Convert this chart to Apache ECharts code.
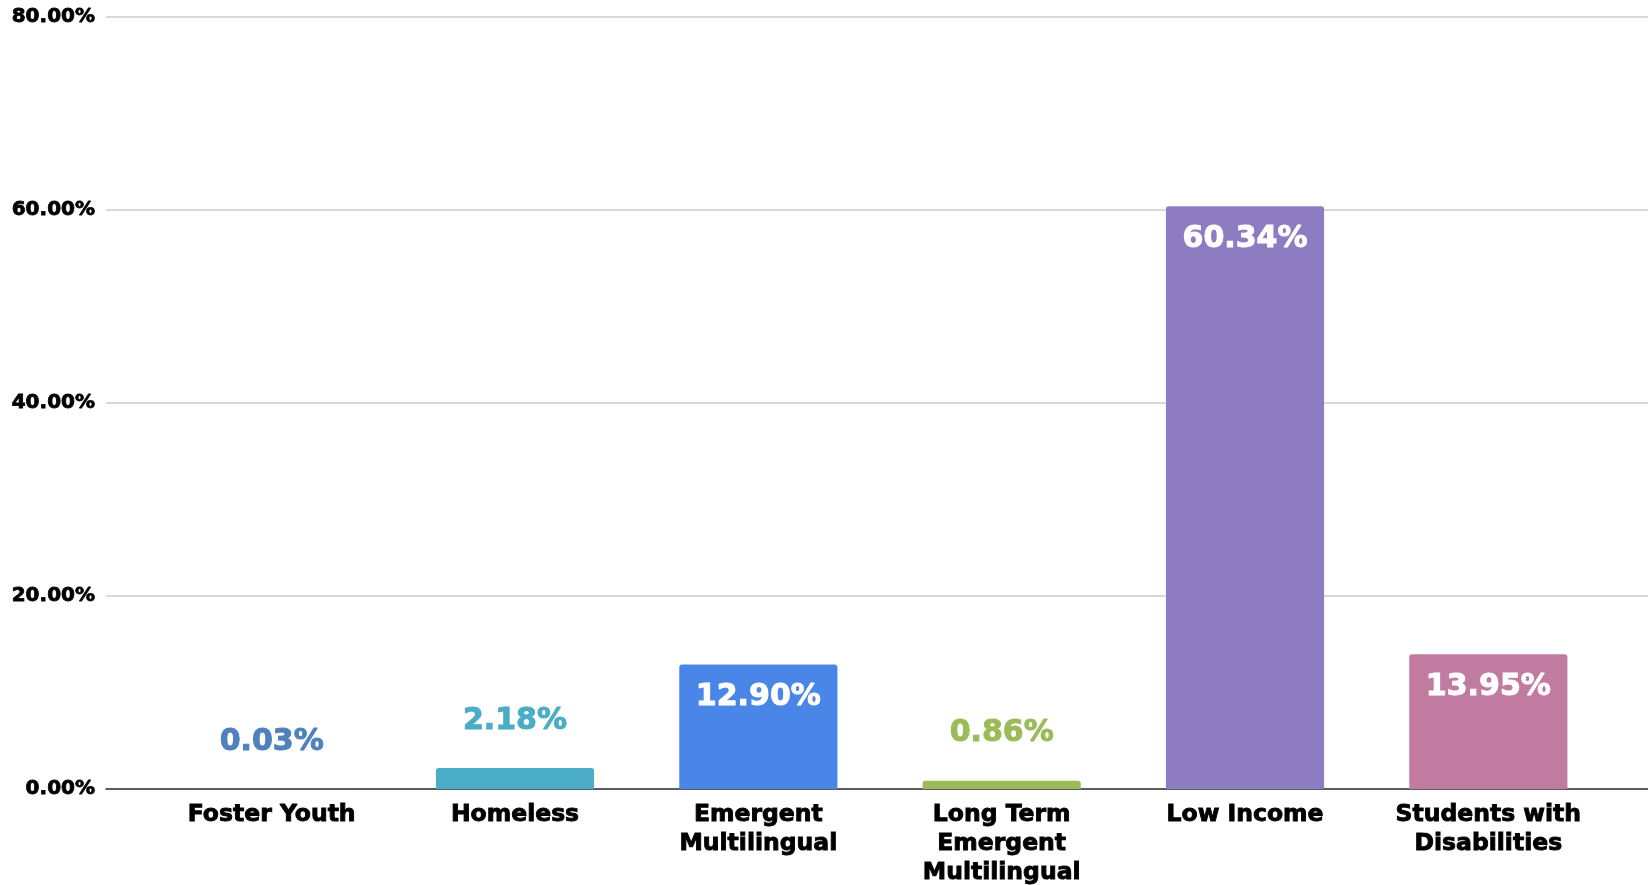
<!DOCTYPE html>
<html>
<head>
<meta charset="utf-8">
<script src="https://cdn.jsdelivr.net/npm/echarts@6/dist/echarts.min.js"></script>
<style>
html,body{margin:0;padding:0;background:#fff;}
#chart{width:1648px;height:885px;}
</style>
</head>
<body>
<div id="chart"></div>
<script>
const categories = ["Foster Youth", "Homeless", "Emergent\nMultilingual", "Long Term\nEmergent\nMultilingual", "Low Income", "Students with\nDisabilities"];
const values = [0.03, 2.18, 12.90, 0.86, 60.34, 13.95];
const barColors = ["#4F81BD", "#4BACC6", "#4A86E8", "#9BBB59", "#8E7CC3", "#C27BA0"];
const yTicks = [0, 20, 40, 60, 80];

const FONT = "DejaVu Sans";
const chart = echarts.init(document.getElementById('chart'));

const data = values.map((v, i) => {
  const inside = v > 5;
  return {
    value: v,
    itemStyle: { color: barColors[i], borderRadius: [3, 3, 0, 0] },
    label: inside ? {
      show: true, position: 'insideTop', distance: 18, color: '#ffffff',
      textBorderColor: '#ffffff', textBorderWidth: 1
    } : {
      show: true, position: 'top', distance: 32, color: barColors[i],
      textBorderColor: barColors[i], textBorderWidth: 1
    }
  };
});

chart.setOption({
  animation: false,
  grid: [
    { left: 106, right: 0, top: 16.5, bottom: 96, containLabel: false, outerBoundsMode: 'none' },
    { left: 150, right: 38, top: 16.5, bottom: 96, containLabel: false, outerBoundsMode: 'none' }
  ],
  xAxis: [
    { gridIndex: 0, type: 'value', min: 0, max: 1, axisLabel: { show: false }, axisTick: { show: false },
      splitLine: { show: false }, axisLine: { show: true, lineStyle: { color: '#333333', width: 1.5 } } },
    { gridIndex: 1, type: 'category', data: categories, axisLine: { show: false }, axisTick: { show: false },
      axisLabel: { interval: 0, margin: 11, color: '#000000', fontFamily: FONT, fontWeight: 'bold', fontSize: 23.5,
        lineHeight: 29, verticalAlign: 'top', textBorderColor: '#000000', textBorderWidth: 0.9 } }
  ],
  yAxis: [
    { gridIndex: 0, type: 'value', min: yTicks[0], max: yTicks[yTicks.length - 1], interval: yTicks[1] - yTicks[0],
      axisLine: { show: false }, axisTick: { show: false },
      axisLabel: { margin: 11, color: '#000000', fontFamily: FONT, fontWeight: 'bold', fontSize: 20,
        textBorderColor: '#000000', textBorderWidth: 0.8,
        formatter: v => v.toFixed(2) + '%' },
      splitLine: { show: true, lineStyle: { color: '#cccccc', width: 1.5 } } },
    { gridIndex: 1, type: 'value', min: yTicks[0], max: yTicks[yTicks.length - 1], interval: yTicks[1] - yTicks[0],
      axisLine: { show: false }, axisTick: { show: false }, axisLabel: { show: false }, splitLine: { show: false } }
  ],
  series: [{
    type: 'bar',
    xAxisIndex: 1, yAxisIndex: 1,
    barCategoryGap: '35%',
    data: data,
    label: {
      fontFamily: FONT, fontWeight: 'bold', fontSize: 30,
      formatter: p => p.value.toFixed(2) + '%'
    }
  }]
});
</script>
</body>
</html>
